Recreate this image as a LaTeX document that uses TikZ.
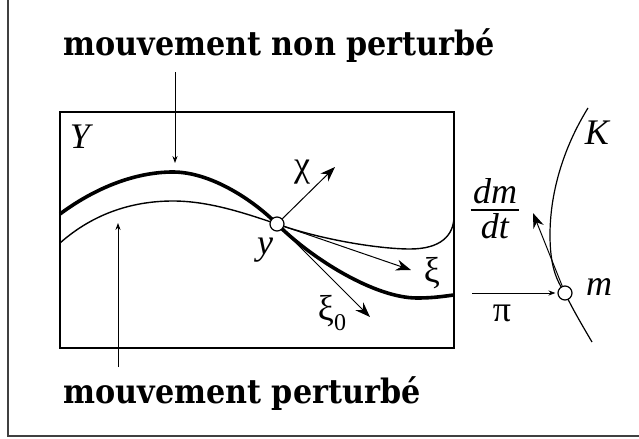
\documentclass[tikz,border=0pt]{standalone}
\usepackage{fontspec}
\setmainfont{DejaVu Serif Condensed}
\newfontfamily\timesf{Liberation Serif}
\usetikzlibrary{arrows.meta}

\tikzset{
  caption/.style={font=\fontsize{16.8}{20}\selectfont\bfseries, anchor=base west, inner sep=0pt},
  sym/.style={font=\timesf\fontsize{18}{21}\selectfont\itshape, inner sep=1pt},
  greek/.style={font=\timesf\fontsize{18}{21}\selectfont, inner sep=1pt},
  pointc/.style={circle, draw, fill=white, minimum size=7pt, inner sep=0pt, line width=0.6pt},
  vecarrow/.style={-{Stealth[length=7.5pt,width=5.5pt]}, line width=0.5pt},
  labarrow/.style={-{Stealth[length=3.5pt,width=2.6pt]}, line width=0.4pt},
}

\begin{document}
\begin{tikzpicture}[x=0.5pt, y=-0.5pt]
  \useasboundingbox (0,0) rectangle (639,439);
  \clip (0,0) rectangle (639,439);
  % outer frame, cut on top and right
  \draw[line width=0.8pt, black!75] (8,-20) -- (8,436) -- (660,436);

  % the space Y
  \draw[line width=0.6pt] (60,112) rectangle (454,348);
  \node[sym] (Ylab) at (80,137) {Y};

  % captions
  \node[caption] (nonpert) at (63,55) {mouvement non perturbé};
  \node[caption] (pert) at (63,403) {mouvement perturbé};
  \coordinate (nonpertA) at (175,72);
  \coordinate (nonpertB) at (175,163);
  \coordinate (pertA) at (118,367);
  \coordinate (pertB) at (118,223);
  \draw[labarrow] (nonpertA) -- (nonpertB);
  \draw[labarrow] (pertA) -- (pertB);

  % the two motions through y
  \coordinate (y0) at (277,224);
  \draw[line width=1.8pt] (60,214) .. controls (95,188) and (135,172) .. (173,172)
    .. controls (210,172) and (252,199) .. (y0)
    .. controls (312,259) and (375,298) .. (417,298)
    .. controls (435,298) and (445,296) .. (454,295);
  \draw[line width=0.7pt] (60,243) .. controls (95,212) and (135,201) .. (173,201)
    .. controls (210,201) and (247,214) .. (y0)
    .. controls (322,240) and (380,249) .. (410,249)
    .. controls (440,249) and (454,236) .. (454,216);
  \node[pointc] (ypt) at (y0) {};
  \node[sym] (ylab) at (265,250) {y};

  % vectors at y
  \coordinate (chiTip) at (335,167);
  \coordinate (xiTip) at (411,270);
  \coordinate (xizTip) at (370,317);
  \draw[vecarrow] (ypt) -- (chiTip);
  \draw[vecarrow] (ypt) -- (xiTip);
  \draw[vecarrow] (ypt) -- (xizTip);
  \node[greek] (chilab) at (302,172) {χ};
  \node[greek] (xilab) at (432,273) {ξ};
  \node[greek] (xizlab) at (332,313) {ξ\raisebox{-5pt}{\fontsize{12}{13}\selectfont 0}};

  % the curve K and the point m
  \coordinate (m0) at (565,293);
  \draw[line width=0.6pt] (588,108) .. controls (562,150) and (550,195) .. (550,235)
    .. controls (550,265) and (556,280) .. (m0)
    .. controls (572,308) and (582,325) .. (592,342);
  \node[pointc] (mpt) at (m0) {};
  \node[sym] (Klab) at (597,133) {K};
  \node[sym] (mlab) at (599,287) {m};

  % projection pi and velocity
  \coordinate (piStart) at (472,293);
  \coordinate (dmTip) at (533,213);
  \draw[labarrow, shorten >=1pt] (piStart) -- (mpt);
  \draw[vecarrow] (mpt) -- (dmTip);
  \node[greek] (pilab) at (502,313) {π};
  \node[sym, anchor=base] (dmnum) at (495,203) {dm};
  \node[sym, anchor=base] (dmden) at (495,238) {dt};
  \draw[line width=0.8pt] (dmnum.south west |- 0,210) -- (dmnum.south east |- 0,210);
\end{tikzpicture}
\end{document}
